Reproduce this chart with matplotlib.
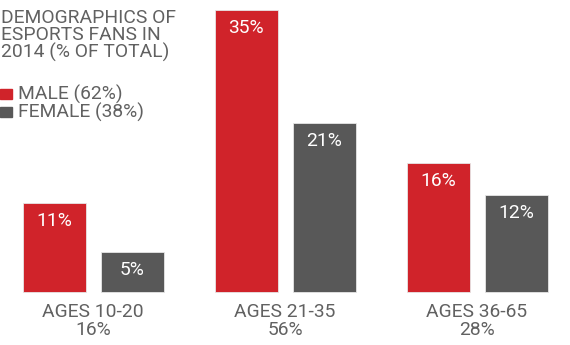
import matplotlib
matplotlib.use("Agg")
import matplotlib.pyplot as plt
import numpy as np

plt.rcParams['font.family'] = ['Roboto', 'DejaVu Sans']

# Data
groups = ['AGES 10-20', 'AGES 21-35', 'AGES 36-65']
group_share = [16, 56, 28]
male = [11, 35, 16]
female = [5, 21, 12]

RED = '#d0232a'
GREY = '#585858'
TEXT = '#616161'
FS = 13.9

W, H = 570, 345
fig = plt.figure(figsize=(W / 100, H / 100), dpi=100)
ax = fig.add_axes([0, 0, 1, 1])

x = np.arange(len(groups))
width = 63 / 192
off = 39 / 192

bars_m = ax.bar(x - off, male, width, color=RED, edgecolor='#e6e6e6', linewidth=0.6)
bars_f = ax.bar(x + off, female, width, color=GREY, edgecolor='#e6e6e6', linewidth=0.6)

for bars, vals in [(bars_m, male), (bars_f, female)]:
    for b, v in zip(bars, vals):
        ax.annotate(f"{v}%", (b.get_x() + b.get_width() / 2, v),
                    xytext=(0, -6.5), textcoords='offset points',
                    ha='center', va='top', color='white', fontsize=FS)

for xi, g, s in zip(x, groups, group_share):
    ax.annotate(f"{g}\n{s}%", (xi, 0), xytext=(0, -8), textcoords='offset points',
                ha='center', va='top', color=TEXT, fontsize=FS,
                linespacing=0.97)

ax.set_xlim(-93 / 192, (W - 93) / 192)
ax.set_ylim(-53 / 8.06, 292 / 8.06)
ax.axis('off')

# title and legend
fig.text(1 / W, 1 - 9 / H, "DEMOGRAPHICS OF\nESPORTS FANS IN\n2014 (% OF TOTAL)",
         ha='left', va='top', color=TEXT, fontsize=FS, linespacing=0.92)

for py, c, lab in [(94, RED, 'MALE (62%)'), (112, GREY, 'FEMALE (38%)')]:
    fig.patches.append(plt.Rectangle((0, 1 - (py + 5) / H), 12 / W, 10 / H,
                                     transform=fig.transFigure, color=c))
    fig.text(18 / W, 1 - py / H, lab, ha='left', va='center', color=TEXT,
             fontsize=FS)

fig.savefig('out.png', dpi=100)
